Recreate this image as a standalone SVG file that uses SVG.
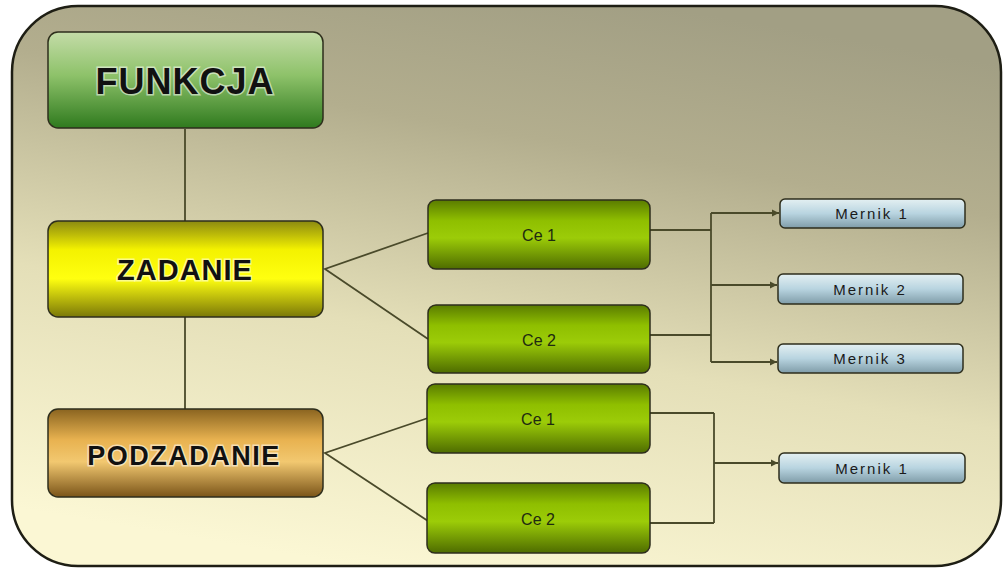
<svg xmlns="http://www.w3.org/2000/svg" width="1003" height="569" viewBox="0 0 1003 569">
<defs>
<linearGradient id="bg" x1="0.65" y1="0" x2="0.35" y2="1">
<stop offset="0" stop-color="#a29f84"/>
<stop offset="0.25" stop-color="#b3ae8e"/>
<stop offset="0.6" stop-color="#e4dfb8"/>
<stop offset="1" stop-color="#fbf7d4"/>
</linearGradient>
<linearGradient id="gFun" x1="0" y1="0" x2="0" y2="1">
<stop offset="0" stop-color="#c4dca8"/>
<stop offset="0.45" stop-color="#8ec26a"/>
<stop offset="1" stop-color="#2f7a1e"/>
</linearGradient>
<linearGradient id="gZad" x1="0" y1="0" x2="0" y2="1">
<stop offset="0" stop-color="#8c8a10"/>
<stop offset="0.3" stop-color="#f4f200"/>
<stop offset="0.6" stop-color="#ffff10"/>
<stop offset="1" stop-color="#7a7808"/>
</linearGradient>
<linearGradient id="gPod" x1="0" y1="0" x2="0" y2="1">
<stop offset="0" stop-color="#8a6420"/>
<stop offset="0.35" stop-color="#e8b250"/>
<stop offset="0.6" stop-color="#f2c870"/>
<stop offset="1" stop-color="#7a5418"/>
</linearGradient>
<linearGradient id="gCel" x1="0" y1="0" x2="0" y2="1">
<stop offset="0" stop-color="#5a7c00"/>
<stop offset="0.3" stop-color="#8fbf00"/>
<stop offset="0.55" stop-color="#9ccc08"/>
<stop offset="1" stop-color="#4e6c00"/>
</linearGradient>
<linearGradient id="gMer" x1="0" y1="0" x2="0" y2="1">
<stop offset="0" stop-color="#e4f0f2"/>
<stop offset="0.5" stop-color="#b8d4e0"/>
<stop offset="1" stop-color="#7f9ca8"/>
</linearGradient>
<marker id="ah" viewBox="0 0 6 6" refX="6" refY="3" markerWidth="4" markerHeight="4" orient="auto">
<path d="M0,0 L6,3 L0,6 z" fill="#4a4a2a"/>
</marker>
</defs>
<style>
.box{stroke:#2e2e1c;stroke-width:1.5}
.big{font-family:"Liberation Sans",Arial,sans-serif;font-weight:bold;fill:#111;text-anchor:middle;stroke:#ffffff;stroke-width:3;stroke-opacity:0.55;paint-order:stroke}
.cel{font-family:"Liberation Sans",Arial,sans-serif;font-size:16px;fill:#1e2a10;text-anchor:middle}
.mer{font-family:"Liberation Sans",Arial,sans-serif;font-size:15px;fill:#1a1a1a;text-anchor:middle;letter-spacing:2px}
.ln{stroke:#4a4a2a;stroke-width:1.8;fill:none}
</style>
<rect x="12" y="6" width="989" height="560" rx="66" ry="66" fill="url(#bg)" stroke="#1e1e14" stroke-width="2.5"/>
<g id="connectors">
<line class="ln" x1="185" y1="129" x2="185" y2="409"/>
<polyline class="ln" points="428,233 325,269 428,339"/>
<polyline class="ln" points="428,418 325,453 428,521"/>
<line class="ln" x1="650" y1="230" x2="711" y2="230"/>
<line class="ln" x1="650" y1="335" x2="711" y2="335"/>
<line class="ln" x1="711" y1="213" x2="711" y2="362"/>
<line class="ln" x1="711" y1="213" x2="779" y2="213" marker-end="url(#ah)"/>
<line class="ln" x1="711" y1="285" x2="777" y2="285" marker-end="url(#ah)"/>
<line class="ln" x1="711" y1="362" x2="777" y2="362" marker-end="url(#ah)"/>
<line class="ln" x1="650" y1="413" x2="714" y2="413"/>
<line class="ln" x1="650" y1="523" x2="714" y2="523"/>
<line class="ln" x1="714" y1="413" x2="714" y2="523"/>
<line class="ln" x1="714" y1="463" x2="778" y2="463" marker-end="url(#ah)"/>
</g>
<g id="funkcja">
<rect class="box" x="48" y="32" width="275" height="96" rx="10" fill="url(#gFun)"/>
<text class="big" x="185" y="94" font-size="36" letter-spacing="1">FUNKCJA</text>
</g>
<g id="zadanie">
<rect class="box" x="48" y="221" width="275" height="96" rx="10" fill="url(#gZad)"/>
<text class="big" x="185" y="280" font-size="29" letter-spacing="1">ZADANIE</text>
</g>
<g id="podzadanie">
<rect class="box" x="48" y="409" width="275" height="88" rx="10" fill="url(#gPod)"/>
<text class="big" x="184" y="465" font-size="27" letter-spacing="1.5">PODZADANIE</text>
</g>
<g id="cel1a">
<rect class="box" x="428" y="200" width="222" height="69" rx="8" fill="url(#gCel)"/>
<text class="cel" x="539" y="241">Ce  1</text>
</g>
<g id="cel2a">
<rect class="box" x="428" y="305" width="222" height="68" rx="8" fill="url(#gCel)"/>
<text class="cel" x="539" y="346">Ce  2</text>
</g>
<g id="cel1b">
<rect class="box" x="427" y="384" width="223" height="69" rx="8" fill="url(#gCel)"/>
<text class="cel" x="538" y="425">Ce  1</text>
</g>
<g id="cel2b">
<rect class="box" x="427" y="483" width="223" height="70" rx="8" fill="url(#gCel)"/>
<text class="cel" x="538" y="525">Ce  2</text>
</g>
<g id="mernik1a">
<rect class="box" x="780" y="199" width="185" height="29" rx="5" fill="url(#gMer)"/>
<text class="mer" x="872" y="219">Mernik 1</text>
</g>
<g id="mernik2a">
<rect class="box" x="778" y="274" width="185" height="30" rx="5" fill="url(#gMer)"/>
<text class="mer" x="870" y="295">Mernik 2</text>
</g>
<g id="mernik3a">
<rect class="box" x="778" y="344" width="185" height="29" rx="5" fill="url(#gMer)"/>
<text class="mer" x="870" y="364">Mernik 3</text>
</g>
<g id="mernik1b">
<rect class="box" x="779" y="453" width="186" height="30" rx="5" fill="url(#gMer)"/>
<text class="mer" x="872" y="474">Mernik 1</text>
</g>
</svg>
